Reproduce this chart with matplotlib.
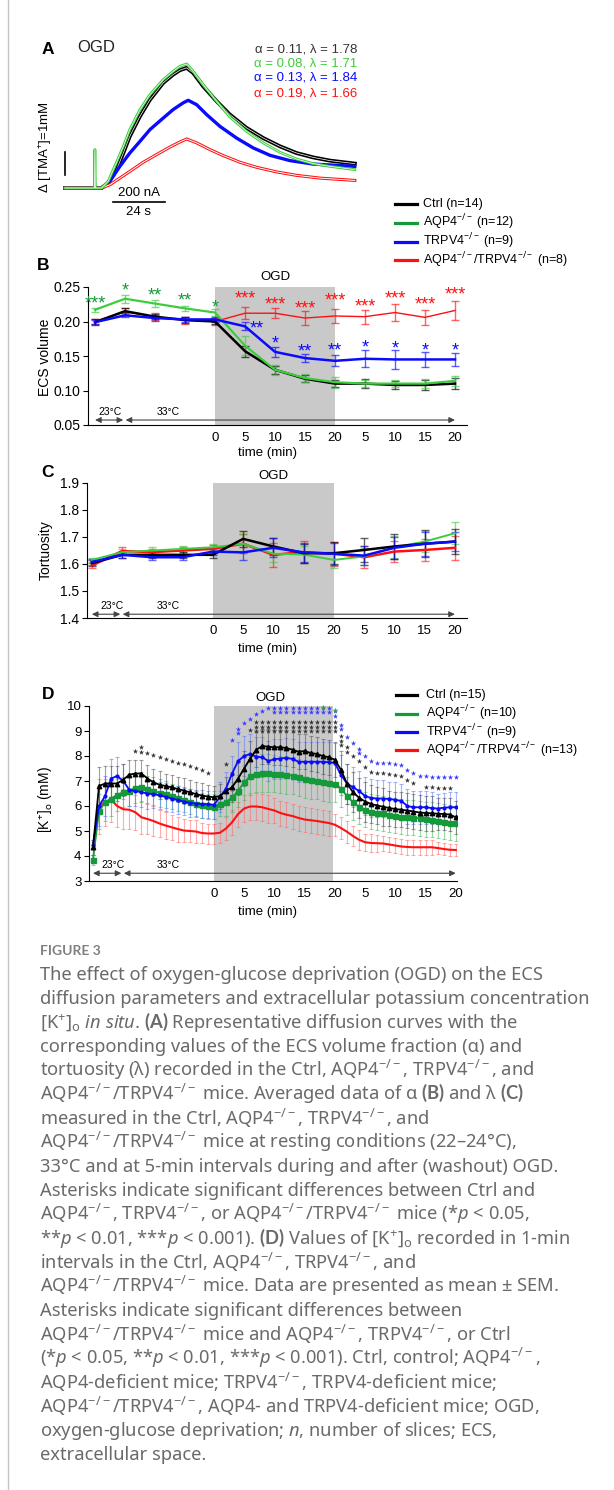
import matplotlib.pyplot as plt
from matplotlib.colors import to_rgba
from matplotlib.lines import Line2D

plt.rcParams['font.family'] = ['Liberation Sans', 'DejaVu Sans']
plt.rcParams['mathtext.fontset'] = 'custom'
plt.rcParams['mathtext.rm'] = 'Noto Sans'
plt.rcParams['mathtext.it'] = 'Noto Sans:italic'
plt.rcParams['mathtext.bf'] = 'Lato:bold'

W, H = 614, 1490

# ---------------- panel A : diffusion curves (time s, delta [TMA+] mM)
a_ctrl_t = [0, 16.9, 19.9, 23.8, 26.9, 29.9, 34.6, 39.2, 45.3, 49.9, 53.0, 56.1, 59.1, 63.7, 69.9, 76.0,
            83.7, 91.4, 99.1, 106.7, 114.4, 122.1, 133.6]
a_ctrl_c = [0, 0, 0.22, 0.80, 1.52, 2.25, 3.12, 3.84, 4.57, 4.93, 5.12, 5.22, 5.00, 4.42, 3.77, 3.19,
            2.61, 2.17, 1.81, 1.52, 1.33, 1.19, 1.06]
a_aqp_t = [0, 13.6, 13.8, 14.0, 16.9, 19.9, 23.8, 26.9, 29.9, 34.6, 39.2, 45.3, 49.9, 53.0, 56.1, 59.1,
           63.7, 69.9, 76.0, 83.7, 91.4, 99.1, 106.7, 114.4, 122.1, 133.6]
a_aqp_c = [0, 0, 1.67, 0, 0, 0.29, 1.12, 1.81, 2.54, 3.41, 4.06, 4.71, 5.07, 5.29, 5.39, 5.07,
           4.49, 3.77, 3.09, 2.46, 1.96, 1.55, 1.26, 1.06, 0.94, 0.80]
a_trp_t = [0, 16.9, 20.7, 25.3, 29.9, 34.6, 39.2, 45.3, 49.9, 54.5, 56.8, 60.7, 65.3, 71.4, 79.1, 86.8,
           94.5, 103.7, 114.4, 133.6]
a_trp_c = [0, 0, 0.29, 0.94, 1.52, 2.03, 2.54, 3.04, 3.41, 3.70, 3.81, 3.62, 3.19, 2.68, 2.17, 1.74,
           1.42, 1.19, 1.04, 0.94]
a_dko_t = [0, 16.9, 20.7, 25.3, 29.9, 36.1, 42.2, 48.4, 53.0, 56.1, 60.7, 66.8, 72.9, 80.6, 88.3, 97.5,
           106.7, 117.5, 133.6]
a_dko_c = [0, 0, 0.14, 0.43, 0.72, 1.12, 1.45, 1.78, 2.00, 2.13, 1.96, 1.67, 1.41, 1.12, 0.90, 0.70,
           0.55, 0.43, 0.33]
a_labels = ['α = 0.11, λ = 1.78', 'α = 0.08, λ = 1.71', 'α = 0.13, λ = 1.84', 'α = 0.19, λ = 1.66']

# ---------------- panels B, C : 5-min means
bc_time = [-20, -15, -10, -5, 0, 5, 10, 15, 20, 25, 30, 35, 40]
tick_pos = [0, 5, 10, 15, 20, 25, 30, 35, 40]
tick_lab = ['0', '5', '10', '15', '20', '5', '10', '15', '20']

b_ctrl = [0.199, 0.215, 0.207, 0.202, 0.200, 0.157, 0.130, 0.117, 0.110, 0.110, 0.108, 0.108, 0.110]
b_aqp = [0.217, 0.233, 0.226, 0.219, 0.213, 0.165, 0.130, 0.118, 0.112, 0.110, 0.110, 0.110, 0.114]
b_trp = [0.199, 0.209, 0.205, 0.203, 0.203, 0.193, 0.156, 0.147, 0.143, 0.146, 0.145, 0.145, 0.145]
b_dko = [0.200, 0.214, 0.207, 0.202, 0.200, 0.212, 0.212, 0.205, 0.208, 0.207, 0.213, 0.206, 0.216]
be_ctrl = [0.004, 0.005, 0.004, 0.004, 0.004, 0.008, 0.006, 0.005, 0.005, 0.006, 0.006, 0.007, 0.008]
be_aqp = [0.003, 0.006, 0.005, 0.004, 0.005, 0.014, 0.007, 0.006, 0.008, 0.005, 0.005, 0.006, 0.007]
be_trp = [0.003, 0.003, 0.004, 0.004, 0.003, 0.006, 0.007, 0.006, 0.008, 0.012, 0.014, 0.011, 0.010]
be_dko = [0.003, 0.005, 0.005, 0.005, 0.005, 0.009, 0.007, 0.010, 0.010, 0.010, 0.012, 0.011, 0.014]

# asterisks of panel B
bs_aqp_x = [-20, -15, -10, -5, 0]
bs_aqp_y = [0.2336, 0.2529, 0.2457, 0.2384, 0.2287]
bs_aqp_s = ['***', '*', '**', '**', '*']
bs_dko_x = [5, 10, 15, 20, 25, 30, 35, 40]
bs_dko_y = [0.2408, 0.2326, 0.2263, 0.2384, 0.2297, 0.2408, 0.2326, 0.2466]
bs_trp_x = [7, 10, 15, 20, 25, 30, 35, 40]
bs_trp_y = [0.1973, 0.1756, 0.1645, 0.1659, 0.1708, 0.1693, 0.1659, 0.1659]
bs_trp_s = ['**', '*', '**', '**', '*', '*', '*', '*']

c_ctrl = [1.603, 1.634, 1.634, 1.634, 1.634, 1.693, 1.665, 1.640, 1.640, 1.652, 1.665, 1.675, 1.683]
c_aqp = [1.615, 1.644, 1.650, 1.656, 1.662, 1.675, 1.638, 1.635, 1.615, 1.628, 1.662, 1.683, 1.714]
c_trp = [1.607, 1.634, 1.625, 1.625, 1.646, 1.643, 1.660, 1.643, 1.638, 1.631, 1.660, 1.675, 1.683]
c_dko = [1.594, 1.648, 1.644, 1.650, 1.656, 1.675, 1.634, 1.644, 1.638, 1.625, 1.646, 1.652, 1.660]
ce_ctrl = [0.010, 0.010, 0.010, 0.010, 0.012, 0.030, 0.030, 0.035, 0.040, 0.045, 0.045, 0.050, 0.045]
ce_aqp = [0.008, 0.010, 0.012, 0.010, 0.012, 0.035, 0.030, 0.030, 0.030, 0.030, 0.040, 0.040, 0.040]
ce_trp = [0.010, 0.012, 0.012, 0.012, 0.012, 0.030, 0.035, 0.035, 0.040, 0.035, 0.040, 0.045, 0.035]
ce_dko = [0.010, 0.015, 0.012, 0.012, 0.015, 0.035, 0.045, 0.040, 0.045, 0.040, 0.040, 0.040, 0.045]

# ---------------- panel D : [K+]o every minute
d_time = list(range(-20, 41))
d_ctrl = ([4.35, 6.8, 6.9, 6.9, 6.9, 7.05, 7.25, 7.3, 7.3, 7.1, 6.95, 6.85, 6.8, 6.75, 6.68, 6.62, 6.55, 6.48, 6.42, 6.38]
          + [6.35, 6.4, 6.6, 6.75, 7.1, 7.5, 7.9, 8.25, 8.4, 8.37, 8.35, 8.35, 8.32, 8.25, 8.17, 8.2, 8.12, 8.08, 8.0, 7.95, 7.85]
          + [7.45, 6.9, 6.55, 6.33, 6.18, 6.08, 6.02, 5.97, 5.92, 5.88, 5.85, 5.82, 5.78, 5.74, 5.72, 5.71, 5.69, 5.68, 5.66, 5.55])
d_aqp = ([3.85, 5.8, 6.15, 6.3, 6.45, 6.55, 6.62, 6.72, 6.75, 6.67, 6.6, 6.53, 6.47, 6.4, 6.32, 6.25, 6.18, 6.1, 6.03, 6.0]
         + [5.97, 6.1, 6.15, 6.35, 6.6, 6.95, 7.2, 7.3, 7.33, 7.32, 7.3, 7.27, 7.25, 7.22, 7.15, 7.07, 7.05, 7.02, 6.97, 6.93, 6.9]
         + [6.7, 6.4, 6.15, 5.97, 5.85, 5.78, 5.74, 5.71, 5.66, 5.62, 5.58, 5.55, 5.53, 5.51, 5.48, 5.45, 5.42, 5.38, 5.34, 5.31])
d_trp = ([4.45, 6.0, 6.4, 7.1, 7.2, 7.0, 6.65, 6.6, 6.55, 6.5, 6.47, 6.43, 6.37, 6.3, 6.24, 6.18, 6.13, 6.1, 6.08, 6.07]
         + [6.05, 6.35, 6.7, 7.3, 7.8, 8.0, 8.08, 7.97, 7.95, 7.8, 7.87, 7.9, 7.93, 7.88, 7.77, 7.77, 7.77, 7.77, 7.77, 7.75, 7.72]
         + [7.25, 6.9, 6.75, 6.6, 6.4, 6.32, 6.3, 6.3, 6.28, 6.25, 6.2, 6.0, 5.95, 5.95, 5.95, 5.92, 5.9, 5.93, 5.95, 5.95])
d_dko = ([4.3, 6.0, 6.15, 6.25, 6.0, 5.87, 5.85, 5.75, 5.55, 5.48, 5.4, 5.3, 5.22, 5.15, 5.08, 5.02, 5.0, 4.98, 4.92, 4.9]
         + [4.9, 4.93, 5.1, 5.35, 5.68, 5.9, 5.98, 5.98, 5.95, 5.88, 5.82, 5.72, 5.65, 5.6, 5.52, 5.46, 5.43, 5.4, 5.36, 5.32, 5.25]
         + [5.12, 4.97, 4.8, 4.65, 4.55, 4.52, 4.51, 4.5, 4.46, 4.42, 4.38, 4.36, 4.35, 4.35, 4.35, 4.35, 4.32, 4.28, 4.25, 4.24])
de_ctrl = ([0.3, 0.75, 0.7, 0.7, 0.7, 0.65, 0.6, 0.55, 0.55, 0.55, 0.55, 0.55, 0.5, 0.5, 0.5, 0.5, 0.5, 0.5, 0.5, 0.45]
           + [0.45, 0.5, 0.55, 0.6, 0.65] + [0.7] * 16
           + [0.75, 0.8, 0.8, 0.8, 0.8, 0.75, 0.75, 0.75] + [0.7] * 8 + [0.65] * 4)
de_aqp = ([0.2, 0.7, 0.75, 0.7, 0.65, 0.6, 0.6, 0.6, 0.6, 0.55, 0.55, 0.55, 0.55] + [0.5] * 7
          + [0.5, 0.5, 0.55, 0.6, 0.65, 0.7] + [0.75] * 15
          + [0.75, 0.75] + [0.7] * 18)
de_trp = ([0.2, 0.8, 0.8, 0.8, 0.75, 0.7, 0.65, 0.6, 0.6, 0.6] + [0.55] * 10
          + [0.55, 0.6, 0.65, 0.7, 0.75] + [0.8] * 16
          + [0.8] * 4 + [0.75] * 4 + [0.7] * 4 + [0.65] * 4 + [0.6] * 4)
de_dko = ([0.25, 1.1, 0.95, 0.9, 0.85, 0.8, 0.75, 0.7, 0.65, 0.6, 0.6, 0.55, 0.55, 0.5, 0.5, 0.45, 0.45, 0.45, 0.4, 0.4]
          + [0.4, 0.4, 0.45, 0.5, 0.5] + [0.55] * 5 + [0.5] * 10 + [0.45]
          + [0.45, 0.45, 0.4, 0.4] + [0.35] * 3 + [0.3] * 9 + [0.25] * 4)

# asterisks of panel D
ds_ctrl_x = [-13, -12, -12, -11, -10, -9, -8, -7, -6, -5, -4, -3, -2, -1, 2, 6]
ds_ctrl_y = [8.2, 8.17, 8.35, 8.13, 8.04, 7.97, 7.87, 7.8, 7.73, 7.68, 7.6, 7.51, 7.44, 7.31, 7.68, 9.05]
ds_ctrl_cols = list(range(7, 21))
ds_ctrl_rows = [9.35, 9.17, 9.0]
ds_ctrl_wx = [21, 21, 21, 22, 22, 23, 24, 25, 26, 27, 28, 29, 30, 31, 32, 33, 35, 36, 37, 38, 39]
ds_ctrl_wy = [8.8, 8.61, 8.44, 8.35, 8.17, 8.0, 7.81, 7.55, 7.37, 7.31, 7.31, 7.28, 7.25, 7.2, 7.04, 6.91,
              6.77, 6.77, 6.74, 6.71, 6.71]
ds_trp_x = [3, 4, 4, 5, 6, 7, 8]
ds_trp_y = [8.63, 9.1, 8.94, 9.33, 9.5, 9.7, 9.81]
ds_trp_top = list(range(9, 20))
ds_trp_sec = list(range(10, 20))
ds_trp_wx = [20, 20, 21, 21, 22, 23, 24, 24, 25, 26, 27, 28, 29, 30, 31, 32, 33, 34, 35, 36, 37, 38, 39, 40]
ds_trp_wy = [9.8, 9.6, 9.24, 9.07, 8.77, 8.51, 8.27, 8.11, 8.0, 7.81, 7.73, 7.73, 7.73, 7.7, 7.64, 7.44,
             7.31, 7.2, 7.2, 7.17, 7.15, 7.15, 7.15, 7.15]
ds_aqp_x = [18, 20]
ds_aqp_y = [9.95, 9.85]

legend_abc = ['Ctrl (n=14)', 'AQP4$^{-/-}$ (n=12)', 'TRPV4$^{-/-}$ (n=9)', 'AQP4$^{-/-}$/TRPV4$^{-/-}$ (n=8)']
legend_d = ['Ctrl (n=15)', 'AQP4$^{-/-}$ (n=10)', 'TRPV4$^{-/-}$ (n=9)', 'AQP4$^{-/-}$/TRPV4$^{-/-}$ (n=13)']

caption = [
    "The effect of oxygen-glucose deprivation (OGD) on the ECS",
    "diffusion parameters and extracellular potassium concentration",
    r"[K$^{+}$]$_{\rm o}$ $\mathit{in\ situ}$. $\mathbf{(A)}$ Representative diffusion curves with the",
    "corresponding values of the ECS volume fraction (α) and",
    r"tortuosity (λ) recorded in the Ctrl, AQP4$^{-/-}$, TRPV4$^{-/-}$, and",
    r"AQP4$^{-/-}$/TRPV4$^{-/-}$ mice. Averaged data of α $\mathbf{(B)}$ and λ $\mathbf{(C)}$",
    r"measured in the Ctrl, AQP4$^{-/-}$, TRPV4$^{-/-}$, and",
    r"AQP4$^{-/-}$/TRPV4$^{-/-}$ mice at resting conditions (22–24°C),",
    "33°C and at 5-min intervals during and after (washout) OGD.",
    "Asterisks indicate significant differences between Ctrl and",
    r"AQP4$^{-/-}$, TRPV4$^{-/-}$, or AQP4$^{-/-}$/TRPV4$^{-/-}$ mice (*$p$ < 0.05,",
    r"**$p$ < 0.01, ***$p$ < 0.001). $\mathbf{(D)}$ Values of [K$^{+}$]$_{\rm o}$ recorded in 1-min",
    r"intervals in the Ctrl, AQP4$^{-/-}$, TRPV4$^{-/-}$, and",
    r"AQP4$^{-/-}$/TRPV4$^{-/-}$ mice. Data are presented as mean ± SEM.",
    "Asterisks indicate significant differences between",
    r"AQP4$^{-/-}$/TRPV4$^{-/-}$ mice and AQP4$^{-/-}$, TRPV4$^{-/-}$, or Ctrl",
    r"(*$p$ < 0.05, **$p$ < 0.01, ***$p$ < 0.001). Ctrl, control; AQP4$^{-/-}$,",
    r"AQP4-deficient mice; TRPV4$^{-/-}$, TRPV4-deficient mice;",
    r"AQP4$^{-/-}$/TRPV4$^{-/-}$, AQP4- and TRPV4-deficient mice; OGD,",
    r"oxygen-glucose deprivation; $n$, number of slices; ECS,",
    "extracellular space.",
]

K = '#000000'
G_LIGHT = '#3ccc3c'
G_DARK = '#159a3a'
B_ = '#0a0aff'
R_ = '#ff1010'
GRAY = '#c9c9c9'

fig = plt.figure(figsize=(W / 100, H / 100), dpi=100)


def rect(l, t, r, b):
    return [l / W, 1 - b / H, (r - l) / W, (b - t) / H]


def ftext(x, y, s, **kw):
    fig.text(x / W, 1 - y / H, s, **kw)


def style(ax, ysize=10):
    for s in ['top', 'right']:
        ax.spines[s].set_visible(False)
    for s in ['left', 'bottom']:
        ax.spines[s].set_linewidth(0.8)
    ax.set_xticks(tick_pos, tick_lab)
    ax.tick_params(axis='x', length=0, pad=5, labelsize=9.5)
    ax.tick_params(axis='y', length=3.5, width=0.8, labelsize=ysize, pad=2)


def temp_arrows(ax, y, ty, x23, x33):
    kw = dict(arrowstyle='<|-|>,head_length=0.35,head_width=0.17', color='#444444', lw=0.8,
              shrinkA=0, shrinkB=0)
    ax.annotate('', xy=(-15.3, y), xytext=(-20, y), arrowprops=kw, annotation_clip=False)
    ax.annotate('', xy=(40, y), xytext=(-14.9, y), arrowprops=kw, annotation_clip=False)
    ax.text(x23, ty, '23°C', ha='center', va='center', fontsize=7.5)
    ax.text(x33, ty, '33°C', ha='center', va='center', fontsize=7.5)


# ---------------- A
axA = fig.add_axes(rect(40, 40, 380, 220))
axA.axis('off')
axA.set_xlim(-11.5, 145.2)
axA.set_ylim(-1.39, 6.43)
axA.plot(a_ctrl_t, a_ctrl_c, color=K, lw=2.8, solid_joinstyle='round')
axA.plot(a_ctrl_t, a_ctrl_c, color='white', lw=0.5)
axA.plot(a_trp_t, a_trp_c, color=B_, lw=2.4)
axA.plot(a_dko_t, a_dko_c, color=R_, lw=2.2)
axA.plot(a_dko_t, a_dko_c, color='white', lw=0.7)
axA.plot(a_aqp_t, a_aqp_c, color=G_LIGHT, lw=2.0)
axA.plot(a_aqp_t, a_aqp_c, color='white', lw=0.5)
axA.plot([0, 0], [0.57, 1.57], color=K, lw=1.2)
axA.plot([22.1, 46.1], [-0.61, -0.61], color=K, lw=1.2)
axA.text(34.1, -0.22, '200 nA', ha='center', va='center', fontsize=9.5)
axA.text(34.1, -1.04, '24 s', ha='center', va='center', fontsize=9.5)
ftext(48, 50, 'A', fontsize=12.5, fontweight='bold', ha='center', va='center')
ftext(77, 48, 'OGD', fontsize=12, ha='left', va='center', color='#222222')
ftext(45, 147, 'Δ [TMA$^{+}$]=1mM', rotation=90, fontsize=9.5, ha='center', va='center')
for lab, col, yy in zip(a_labels, ['#333333', G_LIGHT, B_, R_], [49, 63, 78, 93]):
    ftext(357, yy, lab, color=col, fontsize=9.5, ha='right', va='center')

for lab, col, yy in zip(legend_abc, [K, G_DARK, B_, R_], [204, 222.5, 241.5, 260]):
    fig.add_artist(Line2D([395 / W, 417 / W], [1 - yy / H] * 2, color=col, lw=2.3))
    ftext(423, yy, lab, fontsize=9, ha='left', va='center')

# ---------------- B
axB = fig.add_axes(rect(88, 287, 467, 425))
axB.axvspan(0, 20, color=GRAY, lw=0, zorder=0)
for vals, errs, col, lw in [(b_dko, be_dko, R_, 1.0), (b_ctrl, be_ctrl, K, 1.8),
                            (b_aqp, be_aqp, G_LIGHT, 1.6), (b_trp, be_trp, B_, 1.8)]:
    axB.errorbar(bc_time, vals, yerr=errs, color=col, lw=lw, ecolor=to_rgba(col, 0.65),
                 elinewidth=1.0, capsize=3, capthick=1.0)
axB.set_xlim(-21.17, 42.0)
axB.set_ylim(0.05, 0.25)
axB.set_yticks([0.05, 0.10, 0.15, 0.20, 0.25], ['0.05', '0.10', '0.15', '0.20', '0.25'])
style(axB)
for xs, ys, ss, col in [(bs_aqp_x, bs_aqp_y, bs_aqp_s, G_DARK),
                        (bs_dko_x, bs_dko_y, ['***'] * 8, R_),
                        (bs_trp_x, bs_trp_y, bs_trp_s, B_)]:
    for x, y, s in zip(xs, ys, ss):
        axB.annotate(s, (x, y), xytext=(0, -7.6), textcoords='offset points', ha='center',
                     va='baseline', fontsize=13, color=col, annotation_clip=False)
temp_arrows(axB, 0.0572, 0.0688, -17.5, -7.8)
ftext(43, 265, 'B', fontsize=12.5, fontweight='bold', ha='center', va='center')
ftext(275, 277, 'OGD', fontsize=9.5, ha='center', va='center')
ftext(268, 453, 'time (min)', fontsize=9.5, ha='center', va='center')
ftext(45, 357, 'ECS volume', rotation=90, fontsize=10, ha='center', va='center')

# ---------------- C
axC = fig.add_axes(rect(87, 483, 467, 618))
axC.axvspan(0, 20, color=GRAY, lw=0, zorder=0)
for vals, errs, col, lw in [(c_dko, ce_dko, R_, 1.8), (c_aqp, ce_aqp, G_LIGHT, 1.4),
                            (c_ctrl, ce_ctrl, K, 1.8), (c_trp, ce_trp, B_, 1.8)]:
    axC.errorbar(bc_time, vals, yerr=errs, color=col, lw=lw, ecolor=to_rgba(col, 0.6),
                 elinewidth=1.0, capsize=3, capthick=1.0)
axC.set_xlim(-20.8, 42.0)
axC.set_ylim(1.4, 1.9)
axC.set_yticks([1.4, 1.5, 1.6, 1.7, 1.8, 1.9], ['1.4', '1.5', '1.6', '1.7', '1.8', '1.9'])
style(axC)
temp_arrows(axC, 1.414, 1.443, -16.7, -7.4)
ftext(48, 472, 'C', fontsize=12.5, fontweight='bold', ha='center', va='center')
ftext(273, 476, 'OGD', fontsize=9.5, ha='center', va='center')
ftext(268, 649, 'time (min)', fontsize=9.5, ha='center', va='center')
ftext(46, 550, 'Tortuosity', rotation=90, fontsize=10, ha='center', va='center')

# ---------------- D
axD = fig.add_axes(rect(89, 706, 457, 881))
axD.axvspan(0, 19.7, color=GRAY, lw=0, zorder=0)
for vals, errs, col, ecol, mk, ms, lw in [
        (d_dko, de_dko, R_, '#ff6a6a', '', 0, 1.5),
        (d_aqp, de_aqp, G_DARK, '#49b85a', 's', 3.6, 1.3),
        (d_trp, de_trp, B_, '#5a7aff', 'o', 2.0, 1.3),
        (d_ctrl, de_ctrl, K, '#555555', '^', 3.2, 1.3)]:
    axD.errorbar(d_time, vals, yerr=errs, color=col, lw=lw, marker=mk or None, ms=ms,
                 ecolor=to_rgba(ecol, 0.55), elinewidth=0.8, capsize=1.6, capthick=0.8)
axD.set_xlim(-20.66, 40.2)
axD.set_ylim(3, 10)
axD.set_yticks(range(3, 11))
style(axD, ysize=9.5)

star_kw = dict(marker='*', s=16, linewidths=0, clip_on=False, zorder=5)
axD.scatter(ds_ctrl_x, ds_ctrl_y, color='#333333', **star_kw)
axD.scatter([c for c in ds_ctrl_cols for _ in ds_ctrl_rows],
            [r for _ in ds_ctrl_cols for r in ds_ctrl_rows], color='#333333', **star_kw)
axD.scatter(ds_ctrl_wx, ds_ctrl_wy, color='#333333', **star_kw)
axD.scatter(ds_trp_x, ds_trp_y, color='#3a3aff', **star_kw)
axD.scatter(ds_trp_top, [9.92] * len(ds_trp_top), color='#3a3aff', **star_kw)
axD.scatter(ds_trp_sec, [9.75] * len(ds_trp_sec), color='#3a3aff', **star_kw)
axD.scatter(ds_trp_wx, ds_trp_wy, color='#3a3aff', **star_kw)
axD.scatter(ds_aqp_x, ds_aqp_y, color='#2aa84a', **star_kw)
temp_arrows(axD, 3.31, 3.64, -16.7, -7.6)
ftext(48, 694, 'D', fontsize=12.5, fontweight='bold', ha='center', va='center')
ftext(270, 698, 'OGD', fontsize=9.5, ha='center', va='center')
ftext(267, 912, 'time (min)', fontsize=9.5, ha='center', va='center')
ftext(46, 800, '[K$^{+}$]$_{\\rm o}$ (mM)', rotation=90, fontsize=10, ha='center', va='center')

for lab, col, yy in zip(legend_d, [K, G_DARK, B_, R_], [695, 713.5, 732, 750]):
    fig.add_artist(Line2D([396 / W, 417 / W], [1 - yy / H] * 2, color=col, lw=2.3))
    ftext(426, yy, lab, fontsize=9, ha='left', va='center')

# ---------------- caption
fig.add_artist(Line2D([7.5 / W, 7.5 / W], [0, 1], color='#c4c4c4', lw=1.0))
ftext(40, 955, 'FIGURE 3', fontsize=10, fontweight='bold', color='#808080',
      family=['Lato', 'DejaVu Sans'], ha='left', va='baseline')
for i, line in enumerate(caption):
    ftext(40, 980.5 + 24 * i, line, fontsize=13.2, color='#6a6a6a',
          family=['Noto Sans', 'DejaVu Sans'], ha='left', va='baseline')

fig.savefig('out.png', dpi=100)
